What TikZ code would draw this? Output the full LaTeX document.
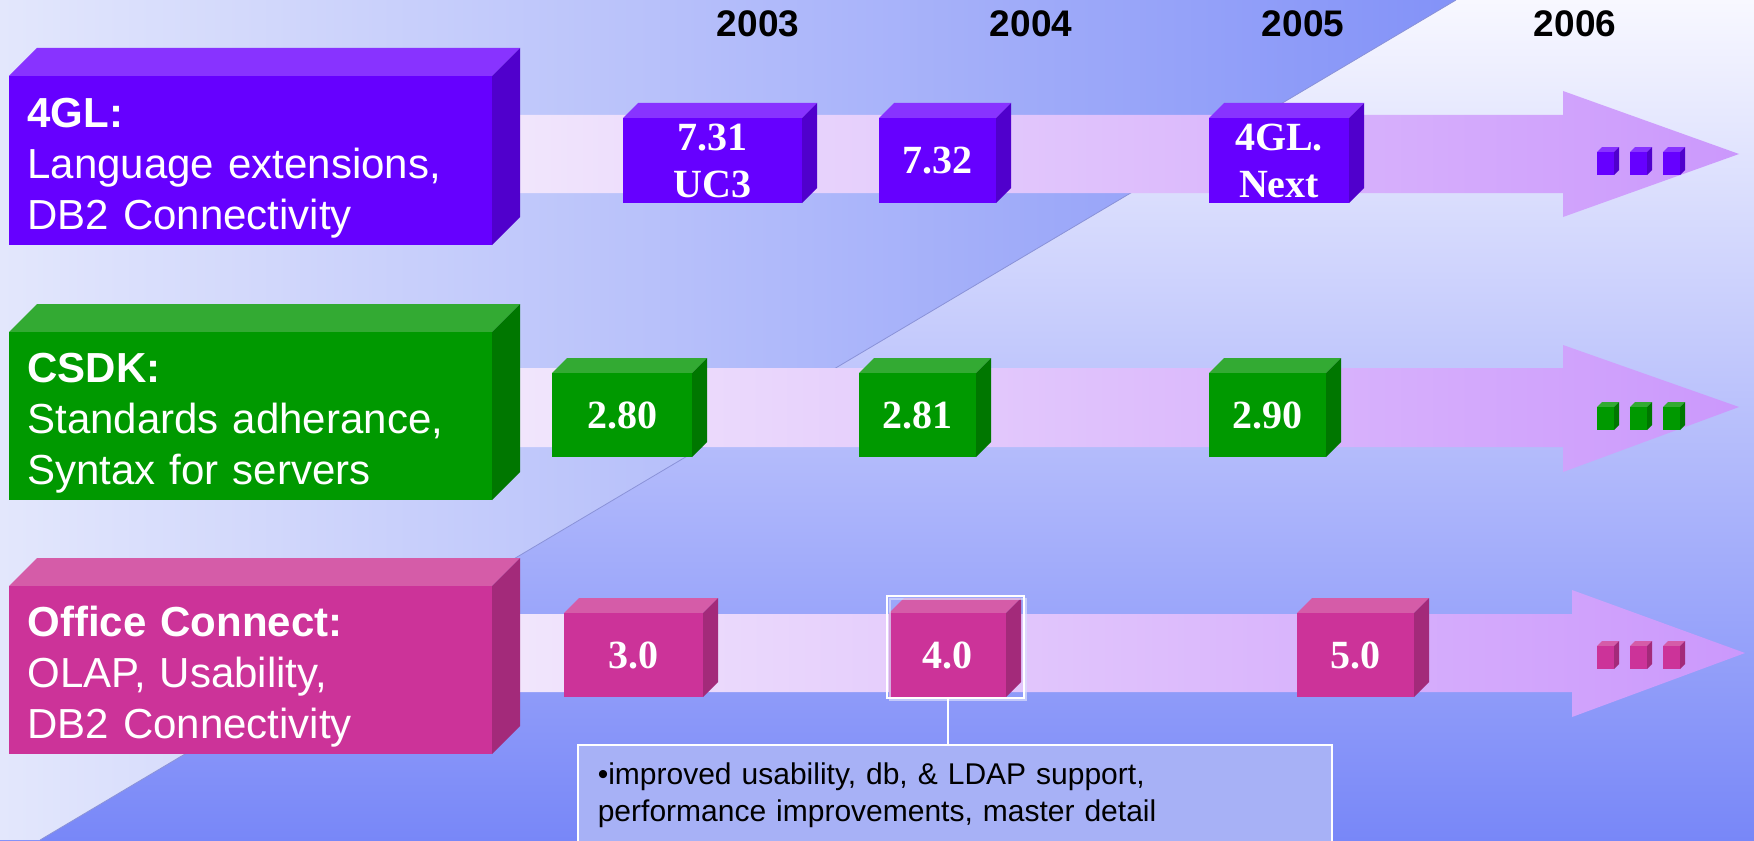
\documentclass[tikz,border=0pt]{standalone}
\usepackage{fontspec}
\setmainfont{Liberation Sans}
\newfontfamily\tnr{Liberation Serif}
\definecolor{bgT}{HTML}{F8F8FF}
\definecolor{bgM}{HTML}{CDD2FC}
\definecolor{bgB}{HTML}{7887F8}
\definecolor{bgL}{HTML}{E3E7FC}
\definecolor{bgR}{HTML}{8392F8}
\definecolor{edge}{HTML}{8A92D8}
\definecolor{bandL}{HTML}{F2E8FC}
\definecolor{bandR}{HTML}{CB98FC}
\definecolor{glF}{HTML}{6600FF}
\definecolor{glT}{HTML}{8833FF}
\definecolor{glS}{HTML}{5000CC}
\definecolor{csF}{HTML}{009900}
\definecolor{csT}{HTML}{33AA33}
\definecolor{csS}{HTML}{007700}
\definecolor{ocF}{HTML}{CC3399}
\definecolor{ocT}{HTML}{D55CA8}
\definecolor{ocS}{HTML}{A32A7A}
\definecolor{noteF}{HTML}{A7B1F6}
\newcommand\cubebox[9]{%
  \fill[#7T] (#2,#3) -- (#2+#6,#3-#6) -- (#4+#6,#3-#6) -- (#4,#3) -- cycle;
  \fill[#7S] (#4,#3) -- (#4+#6,#3-#6) -- (#4+#6,#5-#6) -- (#4,#5) -- cycle;
  \node[#8, fill=#7F, minimum width={(#4-#2)*0.5pt}, minimum height={(#5-#3)*0.5pt}] (#1) at ({(#2+#4)/2},{(#3+#5)/2}) {#9};
}
\newcommand\bandarrow[7]{%
  \shade[left color=bandL, right color=bandR] (480,#1) -- (#3,#1) -- (#3,#4) -- (#5,#6) -- (#3,#7) -- (#3,#2) -- (480,#2) -- cycle;
}
\newcommand\toppad{\rule{0pt}{22.3pt}}
\tikzset{
  labtext/.style={text=white, align=left, text width=223pt, inner xsep=9pt, inner ysep=0pt, font=\fontsize{21}{25.5}\selectfont},
  numtext/.style={text=white, align=center, inner sep=0pt, font=\tnr\bfseries\fontsize{20}{23.5}\selectfont},
  dotbox/.style={inner sep=0pt},
  yearlabel/.style={anchor=base, inner sep=0pt, font=\bfseries\fontsize{18.5}{20}\selectfont},
  notebox/.style={draw=white, line width=0.8pt, fill=noteF, anchor=north west, minimum width=377pt, minimum height=50pt, text width=357pt, inner xsep=10pt, align=left, font=\fontsize{15}{18.5}\selectfont},
  hilite/.style={draw=white, line width=1pt}
}
\begin{document}
\begin{tikzpicture}[x=0.5pt,y=-0.5pt]
\useasboundingbox (0,0) rectangle (1754,840);
% background
\shade[top color=bgT, middle color=bgM, bottom color=bgB] (0,0) rectangle (1754,840);
\shade[left color=bgL, right color=bgR] (0,0) -- (1456,0) -- (40,840) -- (0,840) -- cycle;
\draw[line width=0.4pt, edge] (1456,0) -- (40,840);
% years
\node[yearlabel] (y2003) at (758,37) {2003};
\node[yearlabel] (y2004) at (1031,37) {2004};
\node[yearlabel] (y2005) at (1303,37) {2005};
\node[yearlabel] (y2006) at (1575,37) {2006};
% bands
\bandarrow{115}{193}{1563}{91}{1739}{154}{217}
\bandarrow{368}{447}{1563}{345}{1739}{407}{472}
\bandarrow{614}{692}{1572}{590}{1745}{653}{717}
% label boxes
\cubebox{lab1}{9}{76}{492}{245}{28}{gl}{labtext}{\toppad\textbf{4GL:}\\Language extensions,\\DB2 Connectivity}
\cubebox{lab2}{9}{332}{492}{500}{28}{cs}{labtext}{\toppad\textbf{CSDK:}\\Standards adherance,\\Syntax for servers}
\cubebox{lab3}{9}{586}{492}{754}{28}{oc}{labtext}{\toppad\textbf{Office Connect:}\\OLAP, Usability,\\DB2 Connectivity}
% row 1
\cubebox{b731}{623}{118}{802}{203}{15}{gl}{numtext}{7.31\\UC3}
\cubebox{b732}{879}{118}{996}{203}{15}{gl}{numtext}{7.32}
\cubebox{bnext}{1209}{118}{1349}{203}{15}{gl}{numtext}{\fontsize{20}{25}\selectfont 4GL.\\Next}
\cubebox{d11}{1597}{152}{1614}{175}{5}{gl}{dotbox}{}
\cubebox{d12}{1630}{152}{1647}{175}{5}{gl}{dotbox}{}
\cubebox{d13}{1663}{152}{1680}{175}{5}{gl}{dotbox}{}
% row 2
\cubebox{b280}{552}{373}{692}{457}{15}{cs}{numtext}{2.80}
\cubebox{b281}{859}{373}{976}{457}{15}{cs}{numtext}{2.81}
\cubebox{b290}{1209}{373}{1326}{457}{15}{cs}{numtext}{2.90}
\cubebox{d21}{1597}{407}{1614}{430}{5}{cs}{dotbox}{}
\cubebox{d22}{1630}{407}{1647}{430}{5}{cs}{dotbox}{}
\cubebox{d23}{1663}{407}{1680}{430}{5}{cs}{dotbox}{}
% row 3
\cubebox{b30}{564}{613}{703}{697}{15}{oc}{numtext}{3.0}
\cubebox{b40}{889}{613}{1006}{697}{15}{oc}{numtext}{4.0}
\cubebox{b50}{1297}{613}{1414}{697}{15}{oc}{numtext}{5.0}
\cubebox{d31}{1597}{646}{1614}{669}{5}{oc}{dotbox}{}
\cubebox{d32}{1630}{646}{1647}{669}{5}{oc}{dotbox}{}
\cubebox{d33}{1663}{646}{1680}{669}{5}{oc}{dotbox}{}
% highlight around 4.0
\draw[hilite, white!70!bgR, opacity=0.7] (890,599) rectangle (1026,700);
\draw[hilite] (887,596) rectangle (1024,698);
% callout
\node[notebox] (note) at (577,744) {\textbullet improved usability, db, \& LDAP support,\\performance improvements, master detail};
\draw[white, line width=1pt] (b40.south) -- (b40.south |- note.north);
\end{tikzpicture}
\end{document}
